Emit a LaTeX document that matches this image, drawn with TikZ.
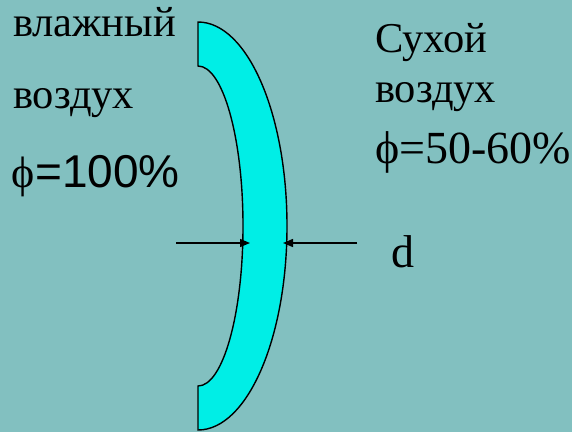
\documentclass[tikz,border=0pt]{standalone}
\usepackage{fontspec}
\setmainfont{Liberation Serif}
\newfontfamily\serifface{Liberation Serif}
\newfontfamily\armsans{Liberation Sans}
\usetikzlibrary{arrows.meta}
\definecolor{bgteal}{RGB}{130,192,192}
\definecolor{lenscyan}{RGB}{0,238,230}
\tikzset{
  lbl/.style={anchor=base west, inner sep=0pt, outer sep=0pt, font=\fontsize{42.5}{48}\selectfont\serifface},
  numlbl/.style={lbl, font=\fontsize{46}{52}\selectfont\serifface},
  dimarrow/.style={line width=1.4pt, -{Triangle[length=10pt,width=8pt]}},
  wall/.style={fill=lenscyan, draw=black, line width=1.4pt, line join=miter}
}
\begin{document}
\begin{tikzpicture}[x=1pt,y=1pt]
\useasboundingbox (0,0) rectangle (572,-432);
\fill[bgteal] (0,0) rectangle (572,-432);
% wall
\draw[wall] (198,-22) arc[start angle=90, end angle=-90, x radius=89, y radius=204]
  -- (198,-386) arc[start angle=-90, end angle=90, x radius=45, y radius=160] -- cycle;
% arrows
\coordinate (la) at (176,-243);
\coordinate (lb) at (250,-243);
\coordinate (ra) at (357,-243);
\coordinate (rb) at (283,-243);
\draw[dimarrow] (la) -- (lb);
\draw[dimarrow] (ra) -- (rb);
% left texts
\node[lbl] (t1) at (13,-36) {влажный};
\node[lbl] (t2) at (13,-108) {воздух};
\node[numlbl] (t3) at (12,-187) {{\fontsize{44}{50}\selectfont ϕ}{\armsans =100\%}};
% right texts
\node[lbl] (t4) at (375,-52) {Сухой};
\node[lbl] (t5) at (375,-102) {воздух};
\node[numlbl] (t6) at (375,-163) {ϕ=50-60\%};
\node[lbl, font=\fontsize{46}{52}\selectfont\serifface] (t7) at (391,-267) {d};
\end{tikzpicture}
\end{document}
